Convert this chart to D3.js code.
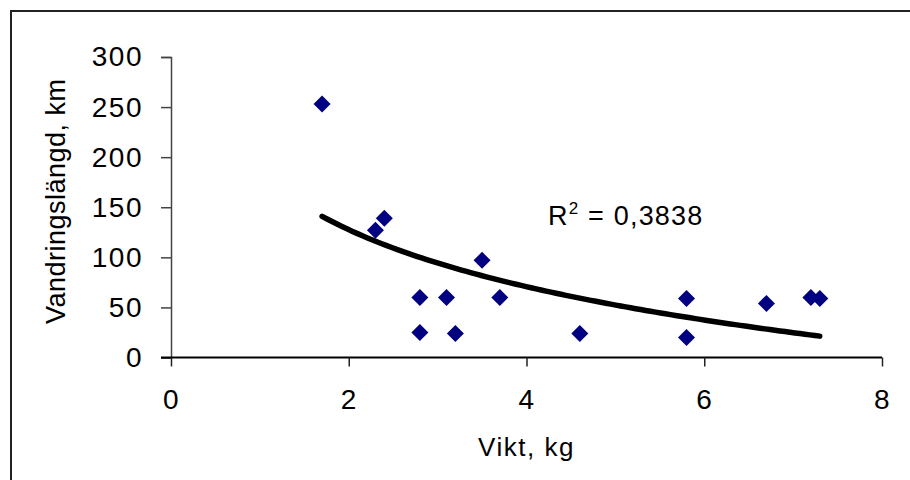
<!DOCTYPE html>
<html>
<head>
<meta charset="utf-8">
<script src="https://cdn.jsdelivr.net/npm/d3@7"></script>
<style>
  body { margin: 0; background: #fff; }
  svg { display: block; font-family: "Liberation Sans", Arial, sans-serif; }
</style>
</head>
<body>
<svg width="910" height="480"></svg>
<script>
// weight (kg) and migration distance (km)
const vikt = [1.7, 2.3, 2.4, 2.8, 2.8, 3.1, 3.2, 3.5, 3.7, 4.6, 5.8, 5.8, 6.7, 7.2, 7.3];
const langd = [253, 127, 139, 60, 25, 60, 24, 97, 60, 24, 59, 20, 54, 60, 59];
const xTicks = [0, 2, 4, 6, 8];
const yTicks = [0, 50, 100, 150, 200, 250, 300];
const r2Label = "0,3838";

const svg = d3.select("svg");
const margin = {top: 57, right: 28, bottom: 122.5, left: 171};
const width = 910 - margin.left - margin.right;
const height = 480 - margin.top - margin.bottom;

// outer chart border (right/bottom edges fall outside the window)
svg.append("rect")
  .attr("x", 11).attr("y", 11)
  .attr("width", 910).attr("height", 480)
  .attr("fill", "none").attr("stroke", "#222").attr("stroke-width", 2);

const og = svg.append("g").attr("transform", `translate(${margin.left},${margin.top})`);

const xScale = d3.scaleLinear([0, 8], [0, 711]);
const yScale = d3.scaleLinear([0, 300], [height, 0]);

const yAxis = d3.axisLeft(yScale).tickValues(yTicks).tickSize(10).tickPadding(18);
const xAxis = d3.axisBottom(xScale).tickValues(xTicks).tickSize(9).tickPadding(23);

const gy = og.append("g").call(yAxis);
gy.select(".domain").attr("stroke", "#444").attr("stroke-width", 1.5);
gy.selectAll(".tick line").attr("stroke", "#444").attr("stroke-width", 1.5);

const gx = og.append("g").attr("transform", `translate(0,${height})`).call(xAxis);
gx.select(".domain").attr("stroke", "#000").attr("stroke-width", 2).attr("d", `M-10,0H${xScale(8)}`);
gx.selectAll(".tick line").attr("stroke", "#222").attr("stroke-width", 1.5);

svg.selectAll(".tick text")
  .attr("fill", "#000")
  .style("font-size", "28px")
  .style("letter-spacing", "1.5px");

og.append("text")
  .attr("text-anchor", "middle")
  .attr("x", xScale(4))
  .attr("y", height + 98)
  .style("font-size", "26px")
  .style("letter-spacing", "1.5px")
  .text("Vikt, kg");

og.append("text")
  .attr("text-anchor", "middle")
  .attr("transform", "rotate(-90)")
  .attr("x", -height / 2 + 6)
  .attr("y", -106)
  .style("font-size", "27px")
  .style("letter-spacing", "0.5px")
  .text("Vandringslängd, km");

// logarithmic trendline y = a*ln(x) + b, least squares fit on the points
const lx = vikt.map(Math.log);
const mx = d3.mean(lx), my = d3.mean(langd);
const a = d3.sum(lx, (v, i) => (v - mx) * (langd[i] - my)) / d3.sum(lx, v => (v - mx) ** 2);
const b = my - a * mx;
const [x0, x1] = d3.extent(vikt);
const trend = d3.range(0, 101).map(i => {
  const x = x0 + (x1 - x0) * i / 100;
  return [x, a * Math.log(x) + b];
});

og.append("path")
  .datum(trend)
  .attr("fill", "none")
  .attr("stroke", "#000")
  .attr("stroke-width", 5.5)
  .attr("stroke-linecap", "round")
  .attr("d", d3.line(d => xScale(d[0]), d => yScale(d[1])));

og.selectAll("path.pt")
  .data(vikt)
  .enter()
  .append("path")
  .attr("class", "pt")
  .attr("fill", "#000080")
  .attr("transform", (d, i) => `translate(${xScale(d)},${yScale(langd[i])})`)
  .attr("d", "M0,-8.5L8.5,0L0,8.5L-8.5,0Z");

const r2 = svg.append("text")
  .attr("x", 548).attr("y", 225)
  .style("font-size", "27px")
  .style("letter-spacing", "1.2px");
r2.append("tspan").text("R");
r2.append("tspan").attr("dy", -11).style("font-size", "17px").text("2");
r2.append("tspan").attr("dy", 11).text(" = " + r2Label);
</script>
</body>
</html>
